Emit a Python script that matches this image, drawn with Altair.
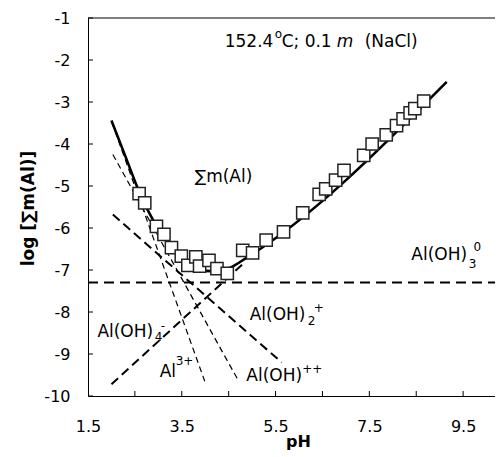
import altair as alt
import pandas as pd

# ---- data ----
species_names = ["Al3+", "Al(OH)++", "Al(OH)2+", "Al(OH)3", "Al(OH)4-"]
species_ph = [[2.005, 3.99], [2.03, 4.69], [2.03, 5.63], [1.5, 10.5], [2.0, 4.84]]
species_log = [[-3.47, -9.65], [-4.25, -9.60], [-5.68, -9.20], [-7.30, -7.30], [-9.72, -6.82]]
species_style = {
    "Al3+": (1.2, [6, 4]),
    "Al(OH)++": (1.2, [6, 4]),
    "Al(OH)2+": (2.0, [9, 5]),
    "Al(OH)3": (2.0, [10, 6]),
    "Al(OH)4-": (2.0, [9, 5]),
}

total_ph = [2.0, 2.3, 2.6, 2.92, 3.2, 3.5, 3.73, 4.0, 4.24, 4.52, 4.88, 9.15]
total_log = [-3.44, -4.30, -5.16, -5.88, -6.35, -6.75, -6.99, -7.02, -7.03, -6.95, -6.71, -2.52]

meas_ph = [2.59, 2.71, 2.96, 3.12, 3.28, 3.49, 3.63, 3.80, 3.88, 4.08, 4.25, 4.47,
           4.80, 5.01, 5.30, 5.67, 6.08, 6.43, 6.57, 6.78, 6.96, 7.38, 7.56, 7.86,
           8.08, 8.22, 8.37, 8.47, 8.66]
meas_log = [-5.18, -5.40, -5.96, -6.15, -6.47, -6.67, -6.89, -6.69, -6.91, -6.77, -6.97, -7.08,
            -6.53, -6.59, -6.29, -6.09, -5.64, -5.20, -5.07, -4.86, -4.63, -4.27, -4.00, -3.78,
            -3.56, -3.40, -3.26, -3.16, -2.98]

x_tick_labels = [1.5, 3.5, 5.5, 7.5, 9.5]
x_minor_ticks = [2.5, 3.5, 4.5, 5.5, 6.5, 7.5, 8.5, 9.5]
y_ticks = [-10, -9, -8, -7, -6, -5, -4, -3, -2, -1]

# annotation texts (text, pH, log)
main_labels = [("∑m(Al)", 3.775, -4.775), ("Al(OH)", 8.396, -6.654), ("Al(OH)", 4.948, -8.081),
               ("Al(OH)", 4.877, -9.532), ("Al(OH)", 1.700, -8.479), ("Al", 3.029, -9.430)]
script_labels = [("3", 9.62, -6.868), ("0", 9.72, -6.464), ("2", 6.184, -8.217), ("+", 6.312, -7.915),
                 ("++", 6.067, -9.366), ("4", 2.922, -8.605), ("-", 3.05, -8.336), ("3+", 3.37, -9.168)]
header_plain = [("152.4", 4.415, -1.564), ("C; 0.1", 5.63, -1.564), ("(NaCl)", 7.40, -1.564)]
header_sup = [("o", 5.481, -1.373)]
header_italic = [("m", 6.803, -1.564)]

X_DOMAIN = [1.5, 10.18]
Y_DOMAIN = [-10, -1]
W, H = 407, 378
FONT = "DejaVu Sans"

xs = alt.Scale(domain=X_DOMAIN, nice=False, zero=False)
ys = alt.Scale(domain=Y_DOMAIN, nice=False, zero=False)

x_axis = alt.Axis(values=x_tick_labels, format=".1f", grid=False, ticks=False, labelPadding=22,
                  labelFlush=False, title="pH", titleX=210, titleY=45, titleBaseline="middle",
                  titleAlign="center", titleFontSize=16)
y_axis = alt.Axis(values=y_ticks, grid=False, ticks=False, labelPadding=18, labelFlush=False,
                  labelExpr="toString(datum.value)",
                  title="log [∑m(Al)]", titleAngle=270, titleX=-60, titleY=190,
                  titleBaseline="middle", titleAlign="center")

layers = []
# species dashed lines
for name, phs, logs in zip(species_names, species_ph, species_log):
    sw, dash = species_style[name]
    df = pd.DataFrame({"pH": phs, "log": logs})
    layers.append(alt.Chart(df).mark_line(color="black", strokeWidth=sw, strokeDash=dash, clip=True)
                  .encode(x=alt.X("pH:Q", scale=xs, axis=x_axis),
                          y=alt.Y("log:Q", scale=ys, axis=y_axis)))

total_df = pd.DataFrame({"pH": total_ph, "log": total_log})
layers.append(alt.Chart(total_df).mark_line(color="black", strokeWidth=2.6, interpolate="monotone")
              .encode(x=alt.X("pH:Q", scale=xs), y=alt.Y("log:Q", scale=ys)))

meas_df = pd.DataFrame({"pH": meas_ph, "log": meas_log})
layers.append(alt.Chart(meas_df).mark_point(shape="square", filled=True, fill="white", stroke="#222",
                                            strokeWidth=1.5, size=150, opacity=1)
              .encode(x=alt.X("pH:Q", scale=xs), y=alt.Y("log:Q", scale=ys)))


def text_layer(rows, size, style="normal", weight="normal"):
    df = pd.DataFrame(rows, columns=["t", "pH", "log"])
    return (alt.Chart(df).mark_text(align="left", baseline="middle", fontSize=size, font=FONT,
                                    fontStyle=style, fontWeight=weight, color="black")
            .encode(x=alt.X("pH:Q", scale=xs), y=alt.Y("log:Q", scale=ys), text="t:N"))


layers.append(text_layer(main_labels, 17))
layers.append(text_layer(script_labels, 12))
layers.append(text_layer(header_plain, 17))
layers.append(text_layer(header_sup, 12))
layers.append(text_layer(header_italic, 17, style="italic"))

# inside ticks and top frame
xt = pd.DataFrame({"pH": x_minor_ticks})
layers.append(alt.Chart(xt).mark_rule(color="black", strokeWidth=1)
              .encode(x=alt.X("pH:Q", scale=xs), y=alt.value(H), y2=alt.value(H - 5)))
yt = pd.DataFrame({"log": y_ticks})
layers.append(alt.Chart(yt).mark_rule(color="black", strokeWidth=1)
              .encode(y=alt.Y("log:Q", scale=ys), x=alt.value(0), x2=alt.value(5)))
layers.append(alt.Chart(pd.DataFrame({"a": [0]})).mark_rule(color="black", strokeWidth=1)
              .encode(y=alt.value(0), x=alt.value(0), x2=alt.value(W)))

chart = (alt.layer(*layers)
         .properties(width=W, height=H, autosize=alt.AutoSizeParams(type="none"),
                     padding={"left": 80, "top": 10, "right": 0, "bottom": 57})
         .configure_view(stroke=None)
         .configure_axis(labelFont=FONT, labelFontSize=16, labelColor="black",
                         titleFont=FONT, titleFontSize=17, titleFontWeight="bold", titleColor="black",
                         domainColor="black", domainWidth=1))

chart.save("out.html", embed_options={"renderer": "svg", "actions": False})
